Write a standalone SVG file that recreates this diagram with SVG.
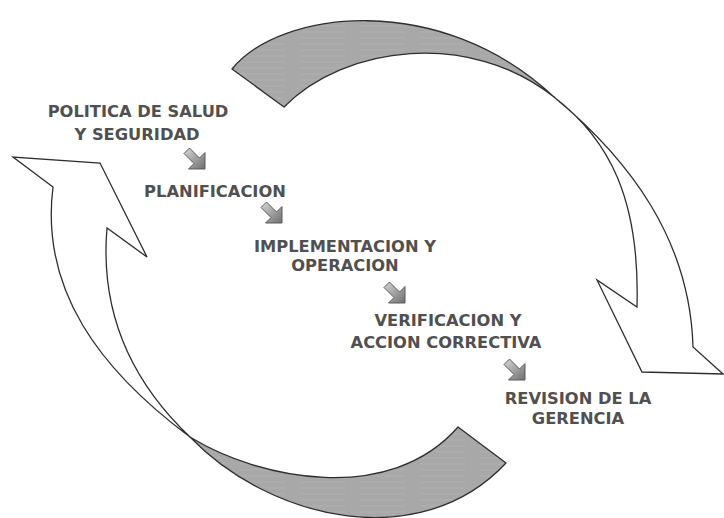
<svg xmlns="http://www.w3.org/2000/svg" xmlns:xlink="http://www.w3.org/1999/xlink" width="724" height="518" viewBox="0 0 724 518">
  <style>
    .lbl { font-family: "DejaVu Sans", Verdana, sans-serif; font-weight: bold; font-size: 16.3px; fill: #505050; text-anchor: middle; }
    .band { fill: url(#streaks); stroke: #2e2e2e; stroke-width: 1.3; stroke-linejoin: round; }
    .body { fill: #ffffff; stroke: #2e2e2e; stroke-width: 1.3; stroke-linejoin: miter; }
    .icon { fill: url(#iconGrad); stroke: #5a5a5a; stroke-width: 1; stroke-linejoin: round; }
  </style>
  <defs>
    <pattern id="streaks" patternUnits="userSpaceOnUse" width="60" height="6">
      <rect width="60" height="6" fill="#a8a8a8"/>
      <line x1="0" y1="2" x2="45" y2="2" stroke="#b3b3b3" stroke-width="0.7"/>
    </pattern>
    <linearGradient id="iconGrad" x1="0" y1="0" x2="1" y2="1">
      <stop offset="0" stop-color="#d8d8d8"/>
      <stop offset="0.5" stop-color="#a3a3a3"/>
      <stop offset="1" stop-color="#6e6e6e"/>
    </linearGradient>
    <g id="downRight">
      <polygon class="icon" points="6.5,1 16.5,11 22,5.5 22,22 5.5,22 11,16.5 1,6.5"/>
    </g>
  </defs>

  <g id="cycle">
    <g id="top-arrow">
      <path class="band" d="M232,69 C280,10 440,-10 554,97 C470,30 345,45 284,107 Z"/>
      <path class="body" d="M554,97 C630,160 690,240 693,347 L723,374 L642,372 L597,280 L637,307 C640,200 610,140 554,97 Z"/>
    </g>
    <g id="bottom-arrow">
      <path class="band" d="M190,437 C260,480 390,505 458,427 L506,463 C420,555 270,520 190,437 Z"/>
      <path class="body" d="M190,437 C100,370 40,290 53,187 L13,157 L100,163 L147,257 L107,228 C100,310 130,380 190,437 Z"/>
    </g>
  </g>

  <g id="connectors">
    <use xlink:href="#downRight" href="#downRight" x="183" y="147"/>
    <use xlink:href="#downRight" href="#downRight" x="260" y="201"/>
    <use xlink:href="#downRight" href="#downRight" x="383" y="281"/>
    <use xlink:href="#downRight" href="#downRight" x="503" y="358"/>
  </g>

  <g id="politica">
    <text class="lbl" x="138" y="117">POLITICA DE SALUD</text>
    <text class="lbl" x="137" y="140">Y SEGURIDAD</text>
  </g>
  <g id="planificacion">
    <text class="lbl" x="215" y="197">PLANIFICACION</text>
  </g>
  <g id="implementacion">
    <text class="lbl" x="345" y="252">IMPLEMENTACION Y</text>
    <text class="lbl" x="345" y="271">OPERACION</text>
  </g>
  <g id="verificacion">
    <text class="lbl" x="448" y="326">VERIFICACION Y</text>
    <text class="lbl" x="446" y="348">ACCION CORRECTIVA</text>
  </g>
  <g id="revision">
    <text class="lbl" x="578" y="404">REVISION DE LA</text>
    <text class="lbl" x="578" y="424">GERENCIA</text>
  </g>
</svg>
